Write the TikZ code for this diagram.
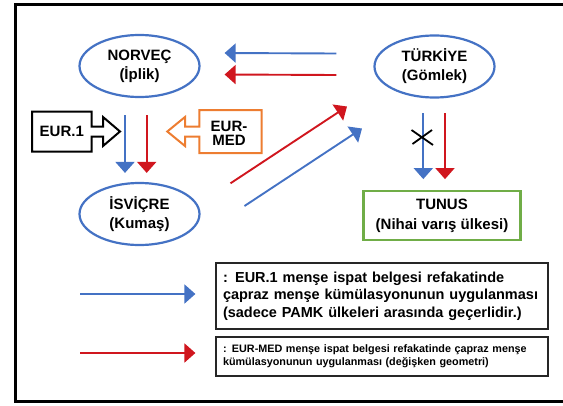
\documentclass[tikz,border=0pt]{standalone}
\usepackage{fontspec}
\setmainfont{Liberation Sans}
\usetikzlibrary{arrows.meta,shapes.geometric}
\definecolor{eurblue}{HTML}{4472C4}
\definecolor{medred}{HTML}{D0161E}
\definecolor{medorange}{HTML}{ED7D31}
\definecolor{tngreen}{HTML}{70AD47}

\begin{document}
\begin{tikzpicture}[x=1pt,y=-1pt,
    country/.style={ellipse,draw=eurblue,line width=2.2pt,minimum width=120pt,minimum height=62pt,inner sep=0pt,align=center,font=\fontsize{15}{19}\selectfont\bfseries},
    bluearr/.style={draw=eurblue,line width=1.9pt,-{Triangle[length=11pt,width=19pt]}},
    redarr/.style={draw=medred,line width=1.9pt,-{Triangle[length=11pt,width=19pt]}},
    legendbox/.style={draw=black!85,line width=1.2pt,align=left,inner sep=0pt,minimum width=332pt,text width=318pt}]
    \useasboundingbox (0,0) rectangle (563,405);
    \draw[line width=3pt] (575,4.5) -- (15,4.5) -- (15,401.5) -- (575,401.5);
    \node[country] (no) at (139.5,66) {NORVEÇ\\(İplik)};
    \node[country] (tr) at (434.5,66.5) {TÜRKİYE\\(Gömlek)};
    \node[country] (isv) at (139.5,214) {İSVİÇRE\\(Kumaş)};
    \node[draw=tngreen,line width=2.2pt,minimum width=157pt,minimum height=49pt,align=center,font=\fontsize{15}{20}\selectfont\bfseries] (tu) at (442,215.4) {TUNUS\\(Nihai varış ülkesi)};
    \draw[bluearr] ([shift={(-37,-13)}]tr.west) -- ([shift={(24,-13)}]no.east);
    \draw[redarr] ([shift={(-37,8.5)}]tr.west) -- ([shift={(24,8.5)}]no.east);
    \draw[bluearr] ([shift={(-14.5,17)}]no.south) -- ([shift={(-14.5,-9)}]isv.north);
    \draw[redarr] ([shift={(7.2,17)}]no.south) -- ([shift={(7.2,-9)}]isv.north);
    \draw[bluearr] ([shift={(-11.2,14.5)}]tr.south) -- ([shift={(-18.7,-10.7)}]tu.north);
    \draw[redarr] ([shift={(10.5,14.5)}]tr.south) -- ([shift={(3,-10.7)}]tu.north);
    \draw[redarr] ([shift={(91,-30.7)}]isv.center) -- ([shift={(-87.5,40)}]tr.center);
    \draw[bluearr] ([shift={(105,-8)}]isv.center) -- ([shift={(-72.5,62)}]tr.center);
    \draw[line width=1.8pt] (411.5,130) -- (433,145) (412.5,144) -- (432,130);
    \draw[line width=2pt] (32,111.7) -- (91.7,111.7) -- (91.7,126.7) -- (103,126.7) -- (103,117) -- (120,131.5) -- (103,146) -- (103,136.7) -- (91.7,136.7) -- (91.7,151.7) -- (32,151.7) -- cycle;
    \node[font=\fontsize{15}{14}\selectfont\bfseries] (eur) at (61.8,131.7) {EUR.1};
    \draw[medorange,line width=2pt] (261.7,110) -- (199.3,110) -- (199.3,126.7) -- (185,126.7) -- (185,117) -- (167.3,131.5) -- (185,146) -- (185,136.7) -- (199.3,136.7) -- (199.3,153) -- (261.7,153) -- cycle;
    \node[align=center,font=\fontsize{15}{14}\selectfont\bfseries] (med) at (229,133.5) {EUR-\\MED};
    \node[legendbox,minimum height=66pt,font=\fontsize{14.5}{17.5}\selectfont\bfseries] (l1) at (382,296) {: EUR.1 menşe ispat belgesi refakatinde\\çapraz menşe kümülasyonunun uygulanması\\(sadece PAMK ülkeleri arasında geçerlidir.)};
    \node[legendbox,minimum height=39pt,font=\fontsize{10.8}{13.3}\selectfont\bfseries] (l2) at (382,356.5) {: EUR-MED menşe ispat belgesi refakatinde çapraz menşe\\kümülasyonunun uygulanması (değişken geometri)};
    \coordinate (b0) at (80,294);
    \coordinate (r0) at (80,353);
    \draw[bluearr] (b0) -- ([shift={(-20,-2)}]l1.west);
    \draw[redarr] (r0) -- ([shift={(-20,-3.5)}]l2.west);
\end{tikzpicture}
\end{document}
